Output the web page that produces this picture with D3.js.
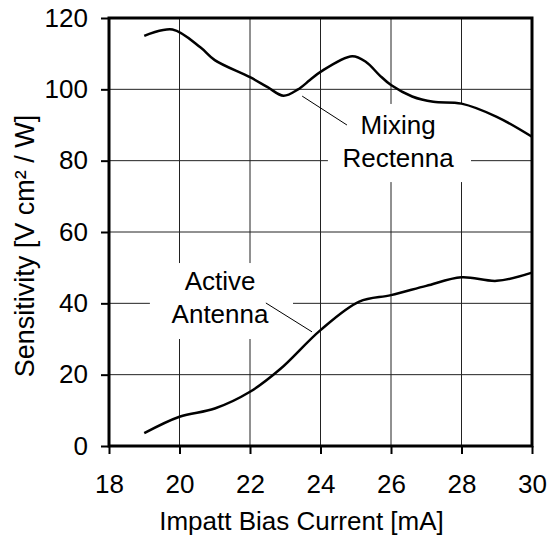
<!DOCTYPE html>
<html>
<head>
<meta charset="utf-8">
<script src="https://cdn.jsdelivr.net/npm/d3@7"></script>
<style>
  body { margin: 0; background: #fff; }
  text { font-family: "Liberation Sans", Arial, sans-serif; fill: #000; }
</style>
</head>
<body>
<script>
// data
const xTicks = [18, 20, 22, 24, 26, 28, 30];
const yTicks = [0, 20, 40, 60, 80, 100, 120];

const mixingX = [19, 19.8, 20.6, 21, 22, 22.5, 22.95, 23.35, 23.7, 24, 24.9, 25.3, 25.67, 26, 26.6, 27.2, 28, 29, 30];
const mixingY = [115, 116.8, 111.7, 108.2, 103.4, 100.6, 98.2, 99.9, 102.6, 104.9, 109.3, 107.6, 104, 101.2, 98, 96.5, 96, 92.3, 86.7];

const activeX = [19, 20, 21, 22, 22.85, 24, 25.1, 26, 27, 28, 29, 30];
const activeY = [3.6, 8.2, 10.5, 15.2, 21.5, 32.5, 40.5, 42.3, 44.9, 47.3, 46.3, 48.6];

const width = 560, height = 539;
const fontSize = 26;

const svg = d3.select("body").append("svg")
  .attr("width", width)
  .attr("height", height);

const x = d3.scaleLinear().domain([18, 30]).range([109, 532]);
const y = d3.scaleLinear().domain([0, 120]).range([446, 18]);

// grid
const grid = svg.append("g").attr("stroke", "#222").attr("stroke-width", 1);
grid.selectAll(".gx").data(xTicks.slice(1, -1)).enter().append("line")
  .attr("x1", d => x(d)).attr("x2", d => x(d))
  .attr("y1", y(0)).attr("y2", y(120));
grid.selectAll(".gy").data(yTicks.slice(1, -1)).enter().append("line")
  .attr("x1", x(18)).attr("x2", x(30))
  .attr("y1", d => y(d)).attr("y2", d => y(d));

// white boxes behind the labels (they cut the grid)
const boxes = [
  {x0: 24.21, x1: 28.27, y0: 95.9, y1: 74.0},
  {x0: 19.16, x1: 23.22, y0: 51.3, y1: 30.0}
];
svg.selectAll(".box").data(boxes).enter().append("rect")
  .attr("x", d => x(d.x0))
  .attr("y", d => y(d.y0))
  .attr("width", d => x(d.x1) - x(d.x0))
  .attr("height", d => y(d.y1) - y(d.y0))
  .attr("fill", "#fff");

// curves
const line = d3.line()
  .x(d => x(d[0]))
  .y(d => y(d[1]))
  .curve(d3.curveCatmullRom.alpha(0.5));

const mixing = mixingX.map((v, i) => [v, mixingY[i]]);
const active = activeX.map((v, i) => [v, activeY[i]]);

svg.append("path").datum(mixing)
  .attr("d", line).attr("fill", "none")
  .attr("stroke", "#000").attr("stroke-width", 2.5);
svg.append("path").datum(active)
  .attr("d", line).attr("fill", "none")
  .attr("stroke", "#000").attr("stroke-width", 2.5);

// leader lines
const leaders = [
  [[23.48, 98.1], [24.75, 90]],
  [[22.45, 40.1], [23.76, 32]]
];
svg.selectAll(".leader").data(leaders).enter().append("line")
  .attr("x1", d => x(d[0][0])).attr("y1", d => y(d[0][1]))
  .attr("x2", d => x(d[1][0])).attr("y2", d => y(d[1][1]))
  .attr("stroke", "#000").attr("stroke-width", 1);

// annotation text
const notes = [
  {x: 26.2, y: 87.6, lines: ["Mixing", "Rectenna"]},
  {x: 21.15, y: 43.7, lines: ["Active", "Antenna"]}
];
notes.forEach(n => {
  const t = svg.append("text")
    .attr("x", x(n.x)).attr("y", y(n.y))
    .attr("text-anchor", "middle")
    .style("font-size", fontSize + "px");
  n.lines.forEach((s, i) => {
    t.append("tspan").attr("x", x(n.x)).attr("dy", i === 0 ? 0 : 33).text(s);
  });
});

// axes
const xAxis = d3.axisBottom(x).tickValues(xTicks).tickSize(8).tickPadding(21);
const yAxis = d3.axisLeft(y).tickValues(yTicks).tickSize(8).tickPadding(13);

const gx = svg.append("g").attr("transform", `translate(0, ${y(0)})`).call(xAxis);
const gy = svg.append("g").attr("transform", `translate(${x(18)}, 0)`).call(yAxis);
[gx, gy].forEach(g => {
  g.select(".domain").remove();
  g.selectAll(".tick line").attr("stroke", "#000").attr("stroke-width", 2);
  g.selectAll(".tick text")
    .style("font-size", fontSize + "px")
    .style("font-family", "'Liberation Sans', Arial, sans-serif")
    .attr("fill", "#000");
});

// frame
svg.append("rect")
  .attr("x", x(18)).attr("y", y(120))
  .attr("width", x(30) - x(18)).attr("height", y(0) - y(120))
  .attr("fill", "none").attr("stroke", "#000").attr("stroke-width", 3);

// titles
svg.append("text")
  .attr("x", 301.5).attr("y", 530)
  .attr("text-anchor", "middle")
  .style("font-size", fontSize + "px")
  .text("Impatt Bias Current [mA]");

svg.append("text")
  .attr("transform", "translate(34, 246) rotate(-90)")
  .attr("text-anchor", "middle")
  .style("font-size", "27px")
  .text("Sensitivity [V cm² / W]");
</script>
</body>
</html>
